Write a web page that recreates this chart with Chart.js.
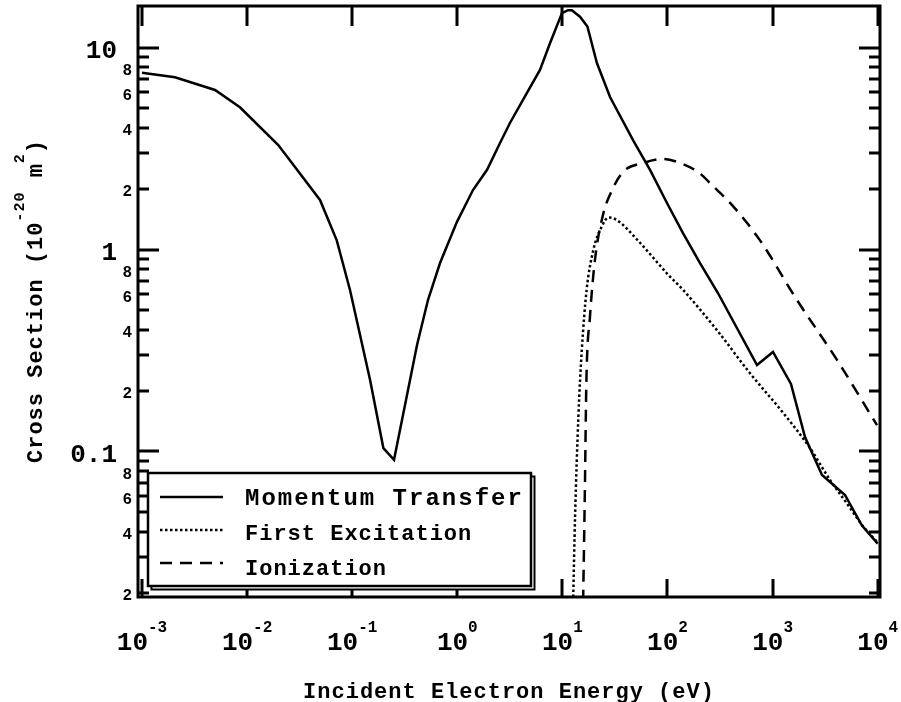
<!DOCTYPE html>
<html>
<head>
<meta charset="utf-8">
<script src="https://cdn.jsdelivr.net/npm/chart.js@4.4.0/dist/chart.umd.min.js"></script>
<style>
    body { margin: 0; background: #fff; }
</style>
</head>
<body>
<canvas id="cs-chart" width="901" height="702"></canvas>
<script>
// momentum transfer cross section (eV, 1e-20 m^2)
const momEnergy = [0.001, 0.00206, 0.00495, 0.00855, 0.0198, 0.0494, 0.0713, 0.0953, 0.148, 0.198, 0.25,
    0.414, 0.526, 0.685, 0.993, 1.41, 1.92, 2.55, 3.17, 4.6, 6.12, 7.62, 9.91, 11.3, 12.3, 14.7, 17.3,
    21.3, 28.4, 47, 68.2, 98.9, 140, 204, 302, 711, 1009, 1496, 2034, 2951, 4885, 7088, 10000];
const momSigma = [7.5, 7.12, 6.16, 5.06, 3.29, 1.76, 1.11, 0.63, 0.226, 0.104, 0.091,
    0.337, 0.562, 0.857, 1.37, 1.97, 2.48, 3.37, 4.23, 5.96, 7.74, 10.5, 14.8, 15.3, 15.3, 14.2, 12.7,
    8.38, 5.69, 3.48, 2.48, 1.7, 1.21, 0.857, 0.609, 0.268, 0.311, 0.216, 0.118, 0.0765, 0.0609, 0.043, 0.035];

// first excitation
const excEnergy = [12.65, 13.2, 14.2, 15.3, 17.0, 19.7, 23.7, 27.4, 32.9, 54.7, 102, 141, 294, 610,
    1265, 2270, 3516, 5070, 7300, 9800];
const excSigma = [0.018, 0.0475, 0.149, 0.318, 0.63, 0.994, 1.3, 1.44, 1.4, 1.08, 0.748, 0.63, 0.4, 0.244,
    0.155, 0.104, 0.0723, 0.0555, 0.0425, 0.0358];

// ionization
const ionEnergy = [15.75, 16.4, 16.9, 18.3, 20.4, 24.3, 29.7, 37.7, 58.5, 90.6, 132, 195, 271, 420,
    759, 1707, 4100, 9850];
const ionSigma = [0.018, 0.0697, 0.218, 0.465, 0.887, 1.48, 1.97, 2.42, 2.68, 2.81, 2.68, 2.42, 2.06, 1.64,
    1.11, 0.562, 0.284, 0.135];

const seriesLabels = ['Momentum Transfer', 'First Excitation', 'Ionization'];
const xTickExponents = [-3, -2, -1, 0, 1, 2, 3, 4];
const yMajorTicks = [0.1, 1, 10];
const yMajorLabels = ['0.1', '1', '10'];
const yMinorLabelled = [2, 4, 6, 8];
const xTitle = 'Incident Electron Energy (eV)';

const X_MIN = Math.pow(10, -3.038), X_MAX = Math.pow(10, 4.022);
const Y_MIN = 0.01904, Y_MAX = 16.05;

const MONO = '"Liberation Mono", "DejaVu Sans Mono", monospace';

function toPoints(xs, ys) {
    return xs.map((x, i) => ({ x: x, y: ys[i] }));
}

function seg(ctx, x1, y1, x2, y2) {
    ctx.moveTo(x1, y1);
    ctx.lineTo(x2, y2);
}

const axisFrame = {
    id: 'axisFrame',
    beforeDraw(chart) {
        const ctx = chart.ctx;
        ctx.save();
        ctx.fillStyle = '#fff';
        ctx.fillRect(0, 0, chart.width, chart.height);
        ctx.restore();
    },
    afterDatasetsDraw(chart) {
        const { ctx, chartArea: a } = chart;
        const xs = chart.scales.x, ys = chart.scales.y;
        ctx.save();
        ctx.strokeStyle = '#000';
        ctx.fillStyle = '#000';
        ctx.lineWidth = 3;

        // ticks point inward, on all four sides
        ctx.beginPath();
        xTickExponents.forEach(e => {
            const px = Math.round(xs.getPixelForValue(Math.pow(10, e)));
            seg(ctx, px, a.top, px, a.top + 20);
            seg(ctx, px, a.bottom, px, a.bottom - 18);
        });
        for (let d = -2; d <= 1; d++) {
            for (let m = 1; m <= 9; m++) {
                const v = m * Math.pow(10, d);
                if (v < ys.min || v > ys.max) continue;
                const py = Math.round(ys.getPixelForValue(v));
                const len = m === 1 ? 21 : 11;
                seg(ctx, a.left, py, a.left + len, py);
                seg(ctx, a.right, py, a.right - len, py);
            }
        }
        ctx.stroke();
        ctx.strokeRect(a.left, a.top, a.right - a.left, a.bottom - a.top);

        // x tick labels: 10 with raised exponent
        xTickExponents.forEach(e => {
            const px = xs.getPixelForValue(Math.pow(10, e));
            ctx.font = 'bold 26px ' + MONO;
            const wBase = ctx.measureText('10').width;
            ctx.font = 'bold 16px ' + MONO;
            const wExp = ctx.measureText(String(e)).width;
            const x0 = px - (wBase + wExp) / 2;
            ctx.textAlign = 'left';
            ctx.font = 'bold 26px ' + MONO;
            ctx.fillText('10', x0, 650);
            ctx.font = 'bold 16px ' + MONO;
            ctx.fillText(String(e), x0 + wBase, 632);
        });

        // y tick labels
        ctx.textAlign = 'right';
        ctx.font = 'bold 26px ' + MONO;
        yMajorTicks.forEach((v, i) => {
            ctx.fillText(yMajorLabels[i], a.left - 21, ys.getPixelForValue(v) + 10.5);
        });
        ctx.font = 'bold 16px ' + MONO;
        for (let d = -2; d <= 0; d++) {
            yMinorLabelled.forEach(m => {
                const v = m * Math.pow(10, d);
                if (v < ys.min || v > ys.max) return;
                ctx.fillText(String(m), a.left - 6, ys.getPixelForValue(v) + 7.5);
            });
        }

        // axis titles
        ctx.letterSpacing = '1px';
        ctx.textAlign = 'center';
        ctx.font = 'bold 22px ' + MONO;
        ctx.fillText(xTitle, (a.left + a.right) / 2, 698);

        ctx.save();
        ctx.translate(42, 463);
        ctx.rotate(-Math.PI / 2);
        ctx.textAlign = 'left';
        const parts = [
            ['Cross Section (10', 22, 0],
            ['-20', 15, -18],
            [' m', 22, 0],
            ['2', 15, -18],
            [')', 22, 0]
        ];
        let cx = 0;
        parts.forEach(p => {
            ctx.font = 'bold ' + p[1] + 'px ' + MONO;
            ctx.fillText(p[0], cx, p[2]);
            cx += ctx.measureText(p[0]).width;
        });
        ctx.restore();
        ctx.restore();
    },
    afterDraw(chart) {
        // boxed legend with a drop shadow, inside the plot
        const ctx = chart.ctx;
        const bx = 148, by = 473, bw = 383, bh = 113;
        ctx.save();
        ctx.strokeStyle = '#000';
        ctx.fillStyle = '#fff';
        ctx.lineWidth = 2;
        ctx.fillRect(bx + 3, by + 3, bw, bh);
        ctx.strokeRect(bx + 3.5, by + 3.5, bw, bh);
        ctx.fillRect(bx, by, bw, bh);
        ctx.lineWidth = 2.5;
        ctx.strokeRect(bx, by, bw, bh);

        const rowY = [497, 530, 563];
        const textY = [505, 540, 575];
        const fonts = [['bold 24px ', '2px'], ['bold 22px ', '1px'], ['bold 22px ', '1px']];
        chart.data.datasets.forEach((ds, i) => {
            ctx.strokeStyle = '#000';
            ctx.lineWidth = ds.borderWidth;
            ctx.setLineDash(ds.borderDash || []);
            ctx.beginPath();
            seg(ctx, 160, rowY[i], 223, rowY[i]);
            ctx.stroke();
            ctx.setLineDash([]);
            ctx.fillStyle = '#000';
            ctx.font = fonts[i][0] + MONO;
            ctx.letterSpacing = fonts[i][1];
            ctx.textAlign = 'left';
            ctx.fillText(ds.label, 245, textY[i]);
        });
        ctx.restore();
    }
};

new Chart(document.getElementById('cs-chart'), {
    type: 'scatter',
    data: {
        datasets: [{
            label: seriesLabels[0],
            data: toPoints(momEnergy, momSigma),
            showLine: true,
            borderColor: '#000',
            borderWidth: 2.5,
            pointRadius: 0,
            tension: 0
        }, {
            label: seriesLabels[1],
            data: toPoints(excEnergy, excSigma),
            showLine: true,
            borderColor: '#000',
            borderWidth: 2.5,
            borderDash: [2.5, 2.5],
            pointRadius: 0,
            cubicInterpolationMode: 'monotone'
        }, {
            label: seriesLabels[2],
            data: toPoints(ionEnergy, ionSigma),
            showLine: true,
            borderColor: '#000',
            borderWidth: 2.5,
            borderDash: [12, 8],
            pointRadius: 0,
            cubicInterpolationMode: 'monotone'
        }]
    },
    options: {
        responsive: false,
        animation: false,
        devicePixelRatio: 1,
        layout: { padding: { left: 138, right: 21, top: 6, bottom: 105 } },
        plugins: {
            legend: { display: false },
            tooltip: { enabled: false }
        },
        scales: {
            x: { type: 'logarithmic', display: false, min: X_MIN, max: X_MAX },
            y: { type: 'logarithmic', display: false, min: Y_MIN, max: Y_MAX }
        }
    },
    plugins: [axisFrame]
});
</script>
</body>
</html>
